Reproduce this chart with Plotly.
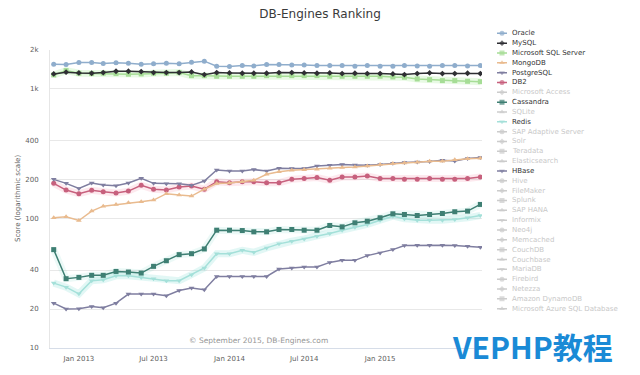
import math
import pandas as pd
import plotly.graph_objects as go

# ---------------- data ----------------
months = pd.date_range("2012-11-01", "2015-09-01", freq="MS")

oracle = [1554, 1543, 1599, 1599, 1571, 1591, 1582, 1554, 1563, 1582, 1563, 1611, 1640, 1500, 1489, 1516, 1508,
          1543, 1543, 1535, 1535, 1516, 1516, 1516, 1500, 1516, 1500, 1500, 1516, 1508, 1500, 1516, 1516, 1508, 1516]
mysql = [1307, 1348, 1331, 1323, 1338, 1372, 1372, 1362, 1338, 1338, 1338, 1354, 1291, 1338, 1331, 1323, 1323,
         1323, 1338, 1338, 1331, 1323, 1331, 1315, 1323, 1315, 1315, 1307, 1291, 1315, 1331, 1315, 1315, 1323, 1315]
mssql = [1284, 1387, 1323, 1315, 1323, 1315, 1300, 1307, 1323, 1323, 1338, 1268, 1268, 1254, 1254, 1254, 1254,
         1268, 1268, 1268, 1268, 1268, 1254, 1254, 1254, 1254, 1254, 1239, 1232, 1195, 1180, 1160, 1160, 1147, 1139]
mongodb = [101.3, 103.1, 96.5, 114, 124.5, 128.4, 132.3, 134.7, 138.7, 155.4, 151.6, 148.9, 168.3,
           186, 188, 192, 197, 219.3, 229.3, 235.6, 237.7, 239.8, 244.1, 247.2, 249.8, 254.4, 260.9,
           265.5, 268.3, 271.7, 276.6, 276.6, 284.1, 289.2, 291.8]
postgresql = [200.6, 186.8, 170.8, 187.8, 181.2, 179.2, 187.8, 204.2, 186.8, 185.8, 185.8, 180.3, 194.6,
              236.8, 232.6, 232.6, 238.5, 232.6, 244.1, 242.8, 242.8, 254.4, 257.6, 260.9, 259.0, 257.6,
              260.9, 266.9, 270.3, 273.2, 275.2, 281.6, 278.1, 290.3, 295.4]
db2 = [186.8, 165.7, 155.4, 164.9, 161.1, 157.1, 162.8, 180.3, 168.3, 165.7, 174.9, 178.1, 168.3, 192.5, 189.1,
       192.5, 192.5, 189.1, 189.1, 200.6, 203.2, 206.9, 197.1, 209.1, 209.1, 212.8, 203.2, 203.2, 200.6, 200.6,
       203.2, 200.6, 200.6, 203.2, 209.1]
cassandra = [57.5, 34.3, 35.1, 36.4, 36.4, 39.0, 38.6, 37.9, 42.7, 47.2, 52.6, 53.5, 58.2, 81.2, 81.2, 80.7, 78.9,
             78.9, 82.2, 82.2, 81.2, 81.2, 88.3, 86.2, 92.6, 95.3, 101.3, 108.7, 107.4, 105.5, 107.4, 109.3,
             112.7, 114, 128.4]
redis = [31.7, 29.5, 26.2, 33.1, 33.7, 36.1, 36.1, 35.1, 34.3, 33.1, 33.1, 36.8, 41.5, 53.5, 53.5, 56.8, 54.8,
         59.3, 63.7, 66.7, 69.6, 72.9, 76.5, 81.2, 85.6, 89.9, 97.0, 104.2, 99.5, 97.0, 97.0, 97.0, 98.2,
         101.3, 105.5]
hbase = [22.2, 20.0, 20.1, 20.9, 20.5, 22.2, 26.1, 26.1, 26.1, 25.3, 27.8, 29.0, 28.2, 35.7, 35.7, 35.7, 35.7,
         35.7, 40.7, 41.5, 42.2, 42.2, 45.8, 47.5, 47.5, 51.7, 54.2, 57.5, 61.8, 62.1, 62.1, 62.1, 61.8,
         61.0, 59.9]

legend_names = ["Oracle", "MySQL", "Microsoft SQL Server", "MongoDB", "PostgreSQL", "DB2",
                "Microsoft Access", "Cassandra", "SQLite", "Redis", "SAP Adaptive Server", "Solr",
                "Teradata", "Elasticsearch", "HBase", "Hive", "FileMaker", "Splunk", "SAP HANA",
                "Informix", "Neo4j", "Memcached", "CouchDB", "Couchbase", "MariaDB", "Firebird",
                "Netezza", "Amazon DynamoDB", "Microsoft Azure SQL Database"]

shown = {
    "Oracle": oracle, "MySQL": mysql, "Microsoft SQL Server": mssql, "MongoDB": mongodb,
    "PostgreSQL": postgresql, "DB2": db2, "Cassandra": cassandra, "Redis": redis, "HBase": hbase,
}

colors = {
    "Oracle": "#8fadcc", "MySQL": "#2e2e33", "Microsoft SQL Server": "#a6dd96", "MongoDB": "#e9bb8f",
    "PostgreSQL": "#7f7ea0", "DB2": "#c7607d", "Cassandra": "#3e7f73", "Redis": "#a4e0d9",
    "HBase": "#7f7ea0",
}
glow = {"Microsoft SQL Server": "rgba(150,230,130,0.22)", "DB2": "rgba(240,120,150,0.16)",
        "Redis": "rgba(140,225,215,0.25)", "Cassandra": "rgba(120,210,195,0.14)"}

symbols = ["circle", "diamond", "square", "triangle-up", "triangle-down"]
sym_size = {"circle": 5, "diamond": 4.5, "square": 5, "triangle-up": 5, "triangle-down": 5}

y_tickvals = [10, 20, 40, 100, 200, 400, 1000, 2000]
y_ticktext = ["10", "20", "40", "100", "200", "400", "1k", "2k"]
x_tickvals = ["2013-01-01", "2013-07-01", "2014-01-01", "2014-07-01", "2015-01-01"]

# ---------------- geometry ----------------
OFF = 8                      # page body margin
W, H = 640 - OFF, 375 - OFF
ML, MR, MT, MB = 50 - OFF, 0, 25 - OFF, 27
PW, PH = W - ML - MR, H - MT - MB


def px(page_x):
    return (page_x - OFF - ML) / PW


def py(page_y):
    return (H - MB - (page_y - OFF)) / PH


FONT = "DejaVu Sans"

fig = go.Figure()

for name, c in glow.items():
    fig.add_trace(go.Scatter(x=months, y=shown[name], mode="lines",
                             line=dict(color=c, width=7), hoverinfo="skip", showlegend=False))

for name in reversed(list(shown.keys())):
    i = legend_names.index(name)
    s = symbols[i % 5]
    fig.add_trace(go.Scatter(
        x=months, y=shown[name], mode="lines+markers", name=name,
        line=dict(color=colors[name], width=1.5),
        marker=dict(symbol=s, size=sym_size[s], color=colors[name], line=dict(width=0)),
        showlegend=False,
    ))

# custom legend on its own small axis
for i, name in enumerate(legend_names):
    c = colors.get(name, "#cccccc")
    s = symbols[i % 5]
    fig.add_trace(go.Scatter(
        x=[2, 7, 12], y=[i, i, i], xaxis="x2", yaxis="y2", mode="lines+markers",
        line=dict(color=c, width=1.5),
        marker=dict(symbol=s, size=[0, sym_size[s], 0], color=c, line=dict(width=0)),
        hoverinfo="skip", showlegend=False,
    ))
    fig.add_annotation(x=15, y=i, xref="x2", yref="y2", text=name, showarrow=False,
                       xanchor="left", yanchor="middle",
                       font=dict(family=FONT, size=7, color="#333333" if name in shown else "#c8c8c8"))

fig.add_annotation(x=px(18), y=py(199), xref="paper", yref="paper",
                   text="Score (logarithmic scale)", textangle=-90, showarrow=False,
                   xanchor="center", yanchor="middle",
                   font=dict(family=FONT, size=7, color="#606060"))

fig.add_annotation(x=px(258.5), y=py(340), xref="paper", yref="paper",
                   text="© September 2015, DB-Engines.com", showarrow=False,
                   xanchor="center", yanchor="middle",
                   font=dict(family=FONT, size=7.5, color="#959595"))

fig.add_annotation(x=px(450), y=py(346), xref="paper", yref="paper",
                   text="VEPHP教程", showarrow=False, xanchor="left", yanchor="middle",
                   font=dict(family="Noto Sans CJK SC", size=30, color="#1a8ad6", weight="bold"))

fig.update_layout(
    width=W, height=H,
    margin=dict(l=ML, r=MR, t=MT, b=MB),
    paper_bgcolor="white", plot_bgcolor="white",
    title=dict(text="DB-Engines Ranking", x=(320 - OFF) / W, xref="container", xanchor="center",
               y=1 - 6 / H, yref="container", yanchor="middle",
               font=dict(family=FONT, size=12, color="#3a3a3a")),
    xaxis=dict(domain=[0, px(482)], type="date",
               range=["2012-10-23", "2015-09-05"],
               tickvals=x_tickvals, tickformat="%b %Y",
               showgrid=False, zeroline=False, showline=True, linecolor="#d6dde8", linewidth=1,
               ticks="", ticklabelstandoff=4,
               tickfont=dict(family=FONT, size=7, color="#606060"), anchor="y"),
    yaxis=dict(domain=[0, py(50)], type="log",
               range=[1, math.log10(2000)],
               tickvals=y_tickvals, ticktext=y_ticktext,
               showgrid=True, gridcolor="#e8e8e8", gridwidth=1, zeroline=False,
               showline=True, linecolor="#e6e6e6", ticks="", ticklabelstandoff=9,
               tickfont=dict(family=FONT, size=7, color="#606060"),
               anchor="x"),
    xaxis2=dict(domain=[px(495), 1], range=[0, 145], visible=False, anchor="y2"),
    yaxis2=dict(domain=[py(313.6), py(28.4)],
                range=[len(legend_names) - 0.5, -0.5], visible=False, anchor="x2"),
    showlegend=False,
    hovermode=False,
)

fig.write_html("out.html")
